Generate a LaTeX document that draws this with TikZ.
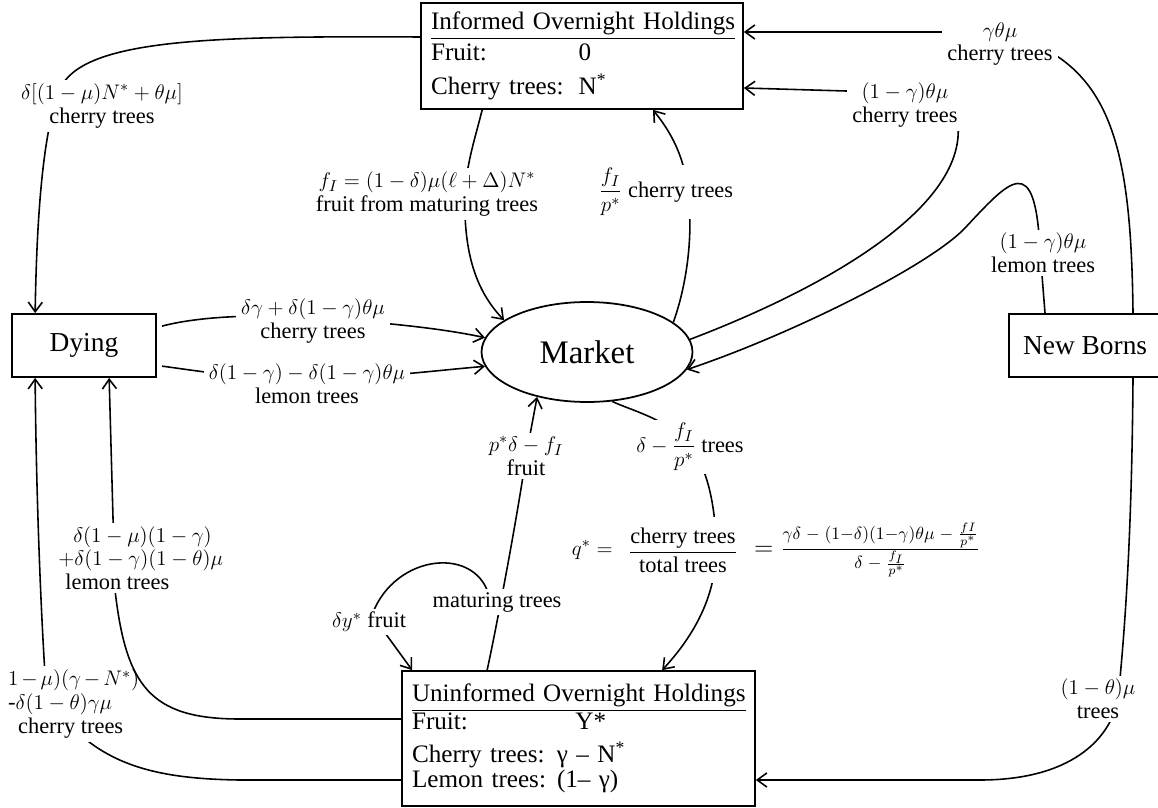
\documentclass[tikz,border=0pt]{standalone}
\usepackage{amsmath}
\usepackage{fontspec}
\setmainfont{Liberation Serif}
\usetikzlibrary{shapes.geometric,positioning,calc,backgrounds,arrows.meta}

\tikzset{
  box/.style={draw=black, line width=1pt, minimum height=1.26cm, font=\fontsize{15.6}{18}\selectfont},
  hold/.style={draw=black, line width=1pt, align=left, inner xsep=0.2cm, font=\fontsize{14.3}{17.6}\selectfont},
  lbl/.style={fill=white, align=center, inner xsep=3pt, inner ysep=2pt, font=\fontsize{12.75}{13.5}\selectfont},
  arr/.style={line width=0.9pt, -{Straight Barb[length=5.5pt,width=8pt]}},
}

\begin{document}
\begin{tikzpicture}[x=0.02cm, y=-0.02cm]
  \useasboundingbox (0,0) rectangle (1158,807);

  % holdings, dying, new borns and the market
  \node[hold, text width=6.04cm, minimum height=2.12cm] (inf) at (582,56)
    {\underline{Informed Overnight Holdings}\\
     \makebox[84pt][l]{Fruit:}0\\[1.7pt]
     \makebox[84pt][l]{Cherry trees:}N\textsuperscript{*}};
  \node[hold, text width=6.66cm, minimum height=2.7cm, font=\fontsize{14.3}{16}\selectfont] (unf) at (578.5,738.5)
    {\underline{Uninformed Overnight Holdings}\\
     \makebox[93pt][l]{Fruit:}Y*\\[2.8pt]
     \makebox[82.5pt][l]{Cherry trees:}γ – N\textsuperscript{*}\\[-1.8pt]
     \makebox[82.5pt][l]{Lemon trees:}(1– γ)};
  \node[box, minimum width=2.88cm] (dying) at (84,345.5) {Dying};
  \node[box, minimum width=3.4cm, anchor=west] (born) at (1008,345.5) {New Borns\kern10pt};
  \node[shape=ellipse, draw=black, line width=1pt, minimum width=4.22cm, minimum height=2cm,
        font=\fontsize{18.7}{22}\selectfont] (mkt) at (587,352) {Market};

  % labels of the flows
  \node[lbl] (infdie) at (102,106) {$\delta[(1-\mu)N^* + \theta\mu]$\\cherry trees};
  \node[lbl] (bornchi) at (1000,44) {$\gamma\theta\mu$\\cherry trees};
  \node[lbl] (mktinf) at (905,105) {$(1-\gamma)\theta\mu$\\cherry trees};
  \node[lbl] (bornlem) at (1043,253) {$(1-\gamma)\theta\mu$\\lemon trees};
  \node[lbl] (fruitI) at (427,194) {$f_I = (1-\delta)\mu(\ell+\Delta)N^*$\\fruit from maturing trees};
  \node[lbl] (fIp) at (666,192) {$\dfrac{f_I}{p^*}$ cherry trees};
  \node[lbl] (diecher) at (313,321) {$\delta\gamma + \delta(1-\gamma)\theta\mu$\\cherry trees};
  \node[lbl] (dielem) at (307,384) {$\delta(1-\gamma) - \delta(1-\gamma)\theta\mu$\\lemon trees};
  \node[lbl, anchor=west, align=left, inner xsep=1pt] (unfcher) at (6,704)
    {$\medmuskip=2.5mu 1-\mu)(\gamma-N^*)$\\-$\delta(1-\theta)\gamma\mu$\\\hspace*{5.7pt}cherry trees};
  \node[lbl] (borntr) at (1098,699) {$(1-\theta)\mu$\\trees};
  \node[lbl] (mat) at (497,602) {maturing trees};
  \node[lbl] (pfruit) at (526,456) {$p^*\delta - f_I$\\fruit};
  \node[lbl] (dyf) at (369,622) {$\delta y^*$ fruit};
  \node[lbl] (dtr) at (690,447) {$\delta - \dfrac{f_I}{p^*}$ trees};
  \node[lbl, inner xsep=2pt, inner ysep=6pt] (qfrac) at (683,550) {$\dfrac{\text{cherry trees}}{\text{total trees}}$};
  \node[lbl, left=3.5pt of qfrac] (qlhs) {$q^* =$};
  \node[lbl, right=4pt of qfrac, font=\fontsize{13.7}{15}\selectfont] (qrhs)
    {$= \frac{\gamma\delta \;-\; (1-\delta)(1-\gamma)\theta\mu \;-\; \frac{fI}{p^*}}{\delta \;-\; \frac{f_I}{p^*}}$};

  % lemon trees from uninformed to dying
  \draw[arr] ($(unf.west)+(0,-19.5)$) -- (240,719) .. controls (150,719) and (126,686) .. (115,590)
    -- ($(dying.south west)+(98,0)$);
  \node[lbl, anchor=west, align=left] (unflem) at (52.7,558)
    {\hspace*{8.5pt}$\delta(1-\mu)(1-\gamma)$\\$+\delta(1-\gamma)(1-\theta)\mu$\\\hspace*{4pt}lemon trees};

  \begin{pgfonlayer}{background}
    \draw[arr] ($(inf.west)+(0,-19)$) .. controls (220,36) and (90,38) .. (62,85)
      .. controls (45,120) and (37,200) .. ($(dying.north west)+(24,0)$);
    \draw[arr] ($(born.north west)+(125,0)$) .. controls (1131,140) and (1110,60) .. (1000,32)
      -- ($(inf.east)+(0,-24)$);
    \draw[arr] (mkt.7) .. controls (820,290) and (965,210) .. (958,125) -- (880,92)
      -- ($(inf.east)+(0,32)$);
    \draw[arr] ($(born.north west)+(37,0)$) -- (1040,250) .. controls (1035,150) and (1010,180) .. (965,228)
      .. controls (929,266) and (790,335) .. (mkt.-10);
    \draw[arr] ($(inf.south west)+(62,0)$) .. controls (476,135) and (466,165) .. (465,194)
      .. controls (463,260) and (480,295) .. (mkt.159);
    \draw[arr] (mkt.19) .. controls (685,290) and (694,240) .. (688,192)
      .. controls (684,150) and (665,125) .. ($(inf.south)+(71,0)$);
    \draw[arr, shorten <=3pt] ($(dying.east)+(0,-18)$) .. controls (200,316) and (260,314) .. (313,318)
      .. controls (380,322) and (440,328) .. (mkt.172);
    \draw[arr, shorten <=3pt] ($(dying.east)+(0,20)$) .. controls (185,369) and (250,380) .. (307,379)
      .. controls (380,378) and (440,370) .. (mkt.188);
    \draw[arr] ($(unf.west)+(0,41.5)$) -- (240,780) .. controls (165,779) and (115,768) .. (75,730)
      -- (46,690) .. controls (40,600) and (36,480) .. ($(dying.south west)+(24,0)$);
    \draw[arr] ($(born.south west)+(125,0)$) .. controls (1132,500) and (1128,600) .. (1118,699)
      .. controls (1110,740) and (1070,780) .. (980,780) -- ($(unf.east)+(0,41.5)$);
    \draw[arr] ($(unf.north west)+(86,0)$) .. controls (500,610) and (520,500) .. (526,456) -- (mkt.-138);
    \draw[arr] ($(mat.center)+(-7,-2)$) .. controls (480,545) and (395,552) .. (372,615)
      -- ($(unf.north west)+(11,0)$);
    \draw[arr] (mkt.-63) .. controls (630,410) and (670,420) .. (690,445)
      .. controls (705,465) and (716,500) .. (716,550)
      .. controls (716,600) and (690,640) .. ($(unf.north west)+(261,0)$);
  \end{pgfonlayer}

\end{tikzpicture}
\end{document}
